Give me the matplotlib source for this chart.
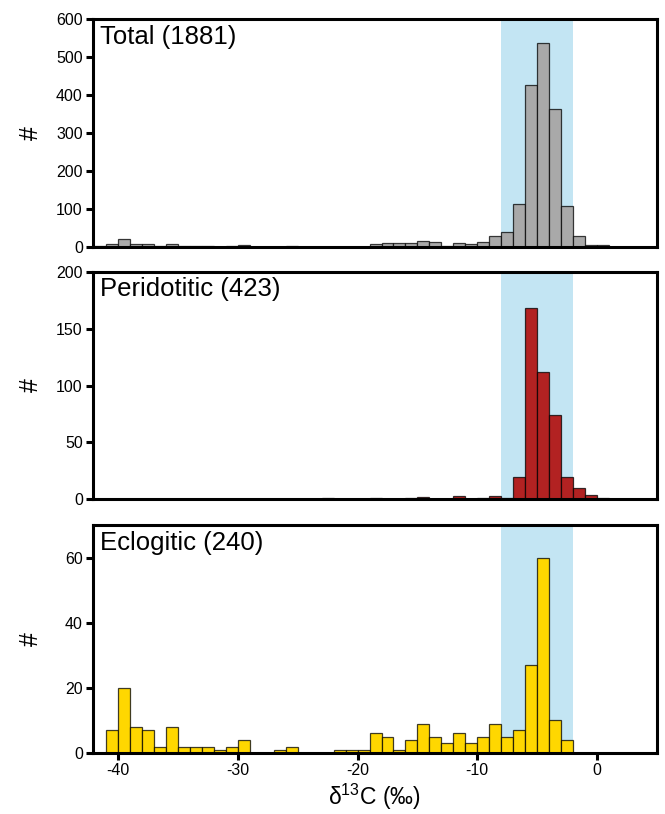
import numpy as np
import matplotlib.pyplot as plt

plt.rcParams["font.family"] = ["Liberation Sans", "DejaVu Sans"]
plt.rcParams["mathtext.fontset"] = "custom"
plt.rcParams["mathtext.rm"] = "Liberation Sans"
plt.rcParams["axes.unicode_minus"] = False

# 1 permil wide bins, left edges from -42 to 0
bin_left = np.arange(-42, 1)

total_counts = [
    2, 7, 20, 9, 7, 3, 9, 2, 3, 2, 1, 3, 4,          # -42 .. -30
    1, 0, 1, 2, 0, 1, 1, 1, 1, 1,                    # -29 .. -20
    7, 11, 10, 10, 16, 14, 3, 10, 7, 12,             # -19 .. -10
    28, 40, 112, 426, 538, 362, 108, 30, 6, 6,       # -9 .. 0
]
peridotitic_counts = [
    0, 0, 0, 0, 0, 0, 0, 0, 0, 0, 0, 0, 0,
    0, 0, 0, 0, 0, 0, 1, 0, 0, 0,
    1, 0, 0, 1, 2, 0, 0, 3, 0, 1,
    3, 1, 20, 168, 112, 74, 20, 10, 4, 1,
]
eclogitic_counts = [
    0, 7, 20, 8, 7, 2, 8, 2, 2, 2, 1, 2, 4,
    0, 0, 1, 2, 0, 0, 0, 1, 1, 1,
    6, 5, 1, 4, 9, 5, 3, 6, 3, 5,
    9, 5, 7, 27, 60, 10, 4, 0, 0, 0,
]

panels = [
    ("Total", total_counts, "#a9a9a9", 600, [0, 100, 200, 300, 400, 500, 600]),
    ("Peridotitic", peridotitic_counts, "#b22222", 200, [0, 50, 100, 150, 200]),
    ("Eclogitic", eclogitic_counts, "#ffd700", 70, [0, 20, 40, 60]),
]
n_samples = [1881, 423, 240]

band = (-8, -2)

fig = plt.figure(figsize=(6.65, 8.14), dpi=100)
ax_bottoms = [0.6966, 0.3864, 0.0749]
ax_h = 0.280

for i, ((name, counts, color, ymax, yticks), n) in enumerate(zip(panels, n_samples)):
    ax = fig.add_axes([0.1398, ax_bottoms[i], 0.848, ax_h])
    ax.axvspan(band[0], band[1], color="#c3e5f3", lw=0, zorder=0)

    counts = np.asarray(counts)
    keep = counts > 0
    ax.bar(bin_left[keep], counts[keep], width=1.0, align="edge",
           color=color, edgecolor=(0, 0, 0, 0.75), linewidth=0.9, zorder=2)

    ax.set_xlim(-42.1, 5)
    ax.set_ylim(0, ymax)
    ax.set_yticks(yticks)

    for s in ax.spines.values():
        s.set_linewidth(2.2)
    ax.tick_params(axis="both", width=2.2, length=4.8, labelsize=11.5, pad=2.5)

    if i < 2:
        ax.tick_params(axis="x", bottom=False, labelbottom=False)
    else:
        ax.set_xticks([-40, -30, -20, -10, 0])
        ax.set_xlabel(r"δ$^{13}$C (‰)", fontsize=16.5)
        ax.xaxis.set_label_coords(0.5, -0.125)

    ax.set_ylabel("#", fontsize=18)
    ax.yaxis.set_label_coords(-0.088, 0.5)

    ax.text(0.012, 0.975, f"{name} ({n})", transform=ax.transAxes,
            fontsize=18.5, va="top", ha="left", zorder=3)

fig.savefig("out.png", dpi=100)
